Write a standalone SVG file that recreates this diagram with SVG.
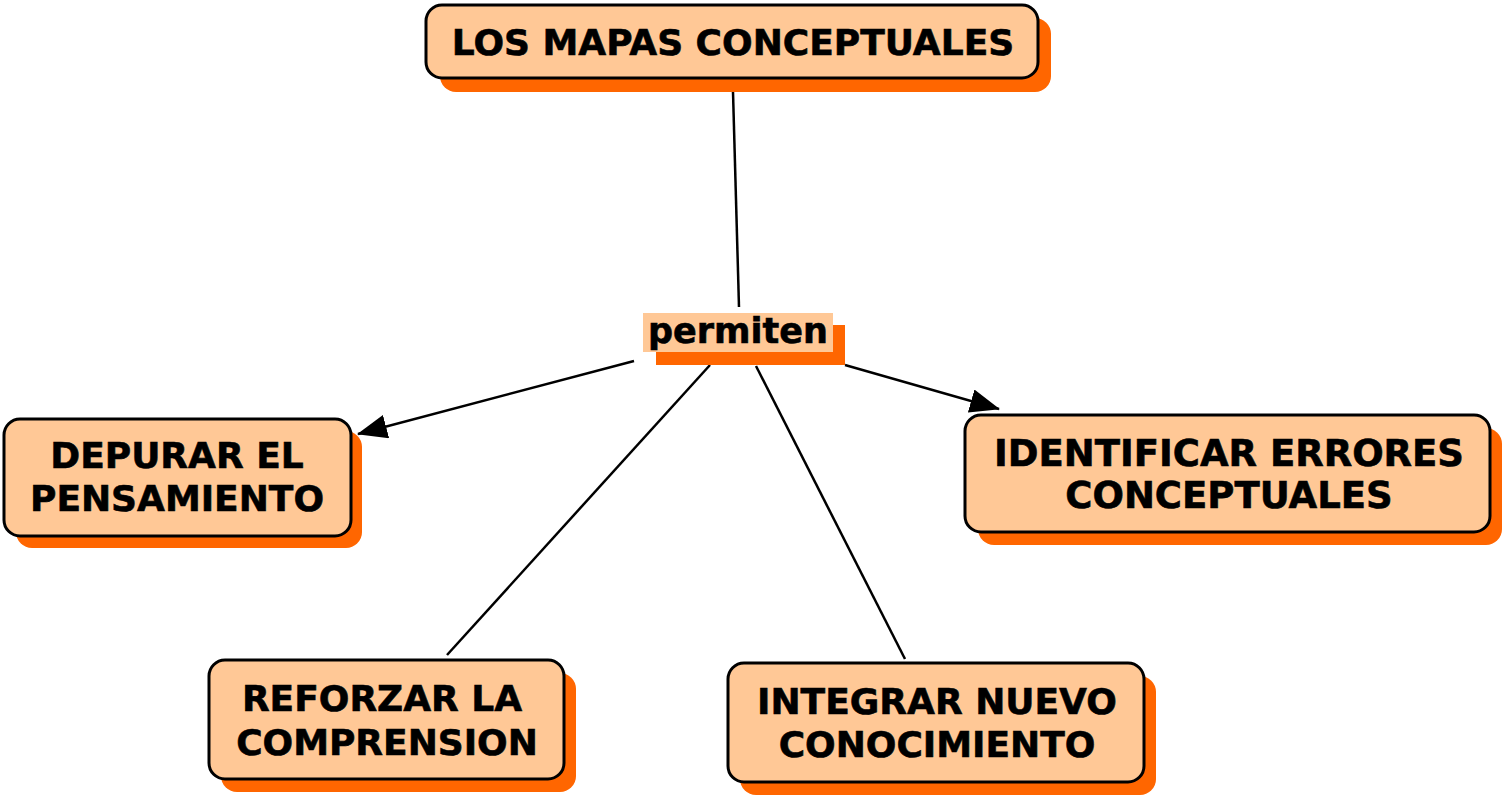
<svg xmlns="http://www.w3.org/2000/svg" width="1507" height="799" viewBox="0 0 1507 799">
<style>
.shadow{fill:#FF6600}
.box{fill:#FFC896;stroke:#000;stroke-width:3}
.t{font-family:"DejaVu Sans","Verdana",sans-serif;font-weight:bold;font-size:36px;fill:#000;stroke:#000;stroke-width:0.6;text-anchor:middle}
.c{stroke:#000;stroke-width:2.5;fill:none}
</style>
<defs>
<marker id="arr" viewBox="0 0 30 24" refX="29" refY="12" markerWidth="30" markerHeight="24" markerUnits="userSpaceOnUse" orient="auto">
<path d="M0,0 L30,12 L0,24 Z" fill="#000"/>
</marker>
</defs>
<rect width="1507" height="799" fill="#fff"/>
<g id="connectors">
<line class="c" x1="733" y1="92" x2="739" y2="307"/>
<line class="c" x1="634" y1="361" x2="358" y2="434" marker-end="url(#arr)"/>
<line class="c" x1="845" y1="365" x2="999" y2="409" marker-end="url(#arr)"/>
<line class="c" x1="710" y1="365" x2="447" y2="655"/>
<line class="c" x1="756" y1="366" x2="905" y2="659"/>
</g>
<g id="n-mapas">
<rect class="shadow" x="440" y="18" width="611" height="74" rx="16"/>
<rect class="box" x="426" y="5" width="612" height="73" rx="16"/>
<text class="t" x="733" y="55">LOS MAPAS CONCEPTUALES</text>
</g>
<g id="n-permiten">
<rect class="shadow" x="656" y="325" width="189" height="40"/>
<rect fill="#FFC896" x="643" y="313" width="190" height="39"/>
<text class="t" x="738" y="343" style="font-size:35px">permiten</text>
</g>
<g id="n-depurar">
<rect class="shadow" x="16" y="431" width="346" height="117" rx="16"/>
<rect class="box" x="4" y="419" width="347" height="117" rx="16"/>
<text class="t" x="177" y="468">DEPURAR EL</text>
<text class="t" x="177" y="511">PENSAMIENTO</text>
</g>
<g id="n-identificar">
<rect class="shadow" x="978" y="428" width="524" height="117" rx="16"/>
<rect class="box" x="965" y="415" width="525" height="117" rx="16"/>
<text class="t" x="1229" y="466" style="font-size:37px">IDENTIFICAR ERRORES</text>
<text class="t" x="1229" y="508" style="font-size:37px">CONCEPTUALES</text>
</g>
<g id="n-reforzar">
<rect class="shadow" x="221" y="673" width="355" height="119" rx="16"/>
<rect class="box" x="209" y="660" width="355" height="119" rx="16"/>
<text class="t" x="382" y="711">REFORZAR LA </text>
<text class="t" x="387" y="755">COMPRENSION</text>
</g>
<g id="n-integrar">
<rect class="shadow" x="740" y="676" width="416" height="119" rx="16"/>
<rect class="box" x="728" y="663" width="416" height="119" rx="16"/>
<text class="t" x="937" y="714">INTEGRAR NUEVO</text>
<text class="t" x="937" y="757">CONOCIMIENTO</text>
</g>
</svg>
